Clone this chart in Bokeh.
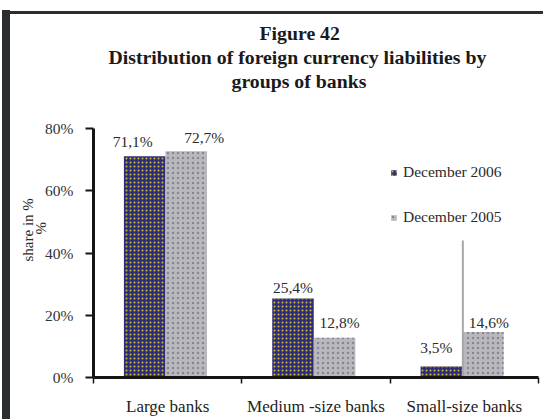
from bokeh.plotting import figure
from bokeh.models import (ColumnDataSource, Range1d, FixedTicker, LabelSet,
                          Legend, LegendItem, Title)
from bokeh.embed import file_html
from bokeh.resources import INLINE

# ---- data ----
categories = ["Large banks", "Medium -size banks", "Small-size banks"]
dec_2006 = [71.1, 25.4, 3.5]
dec_2005 = [72.7, 12.8, 14.6]
series_names = ["December 2006", "December 2005"]
y_ticks = [0, 20, 40, 60, 80]
y_tick_labels = ["0%", "20%", "40%", "60%", "80%"]
title_lines = ["Figure 42", "Distribution of foreign currency liabilities by", "groups of banks"]
y_label_lines = ["share in %", "%"]

# ---- styles ----
SERIF = "Liberation Serif"
W6, W5 = 0.28, 0.28
OFF6, OFF5 = -0.155, 0.125
lbl_dx_2006 = [-12, 0, -5]
lbl_dx_2005 = [18, 5, 6]
lbl_dy_2006 = [9, 5, 14]
lbl_dy_2005 = [8, 10, 4]
stray_line_top = 44
title_offsets = [166, 15, 138]
title_spacer = 14
ylabel_offsets = [116, 143]
ylabel_standoffs = [6, -16]

n = len(categories)
idx = list(range(n))
x6 = [i + 0.5 + OFF6 for i in idx]
x5 = [i + 0.5 + OFF5 for i in idx]

p = figure(width=543, height=419, x_range=Range1d(0, n), y_range=Range1d(0, 80),
           output_backend="svg", toolbar_location=None, title=None,
           min_border_left=93, min_border_right=5, min_border_top=128, min_border_bottom=42)
p.background_fill_color = "white"
p.border_fill_alpha = 0
p.outline_line_color = None
p.grid.visible = False
p.styles = {
    "background-color": "white",
    "background-image": "linear-gradient(#2a2e30, #2a2e30), linear-gradient(#2a2e30, #2a2e30)",
    "background-size": "536px 3px, 8px 409px",
    "background-position": "7px 11px, 2px 10px",
    "background-repeat": "no-repeat",
}

src6 = ColumnDataSource(dict(x=x6, top=dec_2006))
src5 = ColumnDataSource(dict(x=x5, top=dec_2005))
r6 = p.vbar(x="x", top="top", width=W6, source=src6, fill_color="#2e2d78", line_color=None,
            hatch_pattern="dot", hatch_color="#cdbb38", hatch_scale=4, hatch_weight=2.0)
r5 = p.vbar(x="x", top="top", width=W5, source=src5, fill_color="#b8b8be", line_color=None,
            hatch_pattern="dot", hatch_color="#7a7a83", hatch_scale=5, hatch_weight=2.4, hatch_alpha=0.8)

# stray vertical line in the original
p.segment(x0=[idx[-1] + 0.5 - 0.01], y0=[0], x1=[idx[-1] + 0.5 - 0.01], y1=[stray_line_top],
          line_color="#a8a8a8", line_width=2)

# value labels
fmt = lambda v: f"{v:.1f}%".replace(".", ",")
lab_src = ColumnDataSource(dict(
    x=x6 + x5, y=dec_2006 + dec_2005,
    text=[fmt(v) for v in dec_2006 + dec_2005],
    dx=lbl_dx_2006 + lbl_dx_2005, dy=lbl_dy_2006 + lbl_dy_2005))
p.add_layout(LabelSet(x="x", y="y", text="text", x_offset="dx", y_offset="dy", source=lab_src,
                      text_align="center", text_baseline="alphabetic",
                      text_font=SERIF, text_font_size="15.5px", text_color="#2b2b2b"))

# y axis
ya = p.yaxis[0]
ya.ticker = FixedTicker(ticks=y_ticks, minor_ticks=[])
ya.major_label_overrides = dict(zip(y_ticks, y_tick_labels))
ya.axis_line_width = 3
ya.axis_line_color = "#151515"
ya.major_tick_out = 8
ya.major_tick_in = 0
ya.major_tick_line_width = 2
ya.major_tick_line_color = "#151515"
ya.minor_tick_line_color = None
ya.major_label_standoff = 12
ya.major_label_text_font = SERIF
ya.major_label_text_font_size = "15.5px"
ya.major_label_text_color = "#333333"

# x axis
xa = p.xaxis[0]
xa.ticker = FixedTicker(ticks=[i + 0.5 for i in idx], minor_ticks=list(range(n + 1)))
xa.major_label_overrides = {i + 0.5: c for i, c in zip(idx, categories)}
xa.axis_line_width = 3
xa.axis_line_color = "#151515"
xa.major_tick_line_color = None
xa.major_tick_out = 0
xa.major_tick_in = 0
xa.minor_tick_out = 6
xa.minor_tick_in = 0
xa.minor_tick_line_color = "#151515"
xa.minor_tick_line_width = 1.5
xa.major_label_standoff = 13
xa.major_label_text_font = SERIF
xa.major_label_text_font_size = "17px"
xa.major_label_text_color = "#222222"

# title block: a blank spacer nearest the frame, then the lines bottom-up
p.add_layout(Title(text=" ", standoff=title_spacer, text_font=SERIF, text_font_size="19px"), "above")
for txt, off in reversed(list(zip(title_lines, title_offsets))):
    p.add_layout(Title(text=txt, align="left", offset=off, standoff=0,
                       text_font=SERIF, text_font_size="19.8px", text_font_style="bold",
                       text_color="#1a1a1a"), "above")

# y axis label lines: nearest the axis first
for txt, off, so in reversed(list(zip(y_label_lines, ylabel_offsets, ylabel_standoffs))):
    p.add_layout(Title(text=txt, align="left", offset=off, standoff=so, vertical_align="top",
                       text_font=SERIF, text_font_size="15px", text_font_style="normal",
                       text_color="#2b2b2b"), "left")

# legend
legend = Legend(items=[LegendItem(label=series_names[0], renderers=[r6]),
                       LegendItem(label=series_names[1], renderers=[r5])],
                location=(297, 150), glyph_width=7, glyph_height=7, label_height=20,
                spacing=25, padding=0, margin=0, label_standoff=6,
                border_line_color=None, background_fill_alpha=0,
                label_text_font=SERIF, label_text_font_size="15.5px", label_text_color="#2b2b2b")
p.add_layout(legend, "center")

open("out.html", "w").write(file_html(p, INLINE))
